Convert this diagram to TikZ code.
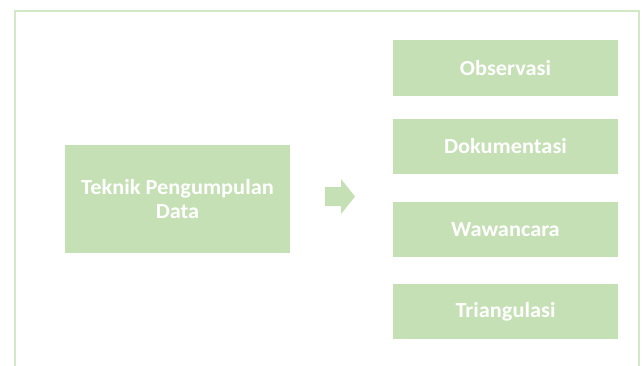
\documentclass[tikz,border=0pt]{standalone}
\usepackage{fontspec}
\setmainfont{Carlito}[FakeStretch=1.04]
\definecolor{boxgreen}{HTML}{C5E0B4}
\definecolor{framegreen}{HTML}{D3E8C6}
\begin{document}
\begin{tikzpicture}[x=1pt,y=-1pt,
  greenbox/.style={rectangle, fill=boxgreen, draw=none, inner sep=0pt,
    text=white, font=\fontsize{21.5}{24.5}\selectfont\bfseries, align=center},
  rightbox/.style={greenbox, minimum width=225pt, minimum height=55pt}]
\useasboundingbox (0,0) rectangle (643,365);
\fill[white] (0,0) rectangle (643,365);
\draw[framegreen, line width=2pt] (15,375) -- (15,11) -- (639,11) -- (639,375);
\node[greenbox, minimum width=225pt, minimum height=108pt] (tpd) at (177.5,199) {Teknik Pengumpulan\\Data};
\node[rightbox, minimum height=56pt] (obs) at (505.5,68) {Observasi};
\node[rightbox] (dok) at (505.5,146.5) {Dokumentasi};
\node[rightbox] (waw) at (505.5,229.5) {Wawancara};
\node[rightbox] (tri) at (505.5,311.5) {Triangulasi};
\fill[boxgreen] (325,187) -- (341,187) -- (341,179) -- (355,196.5) -- (341,214) -- (341,206) -- (325,206) -- cycle;
\end{tikzpicture}
\end{document}
